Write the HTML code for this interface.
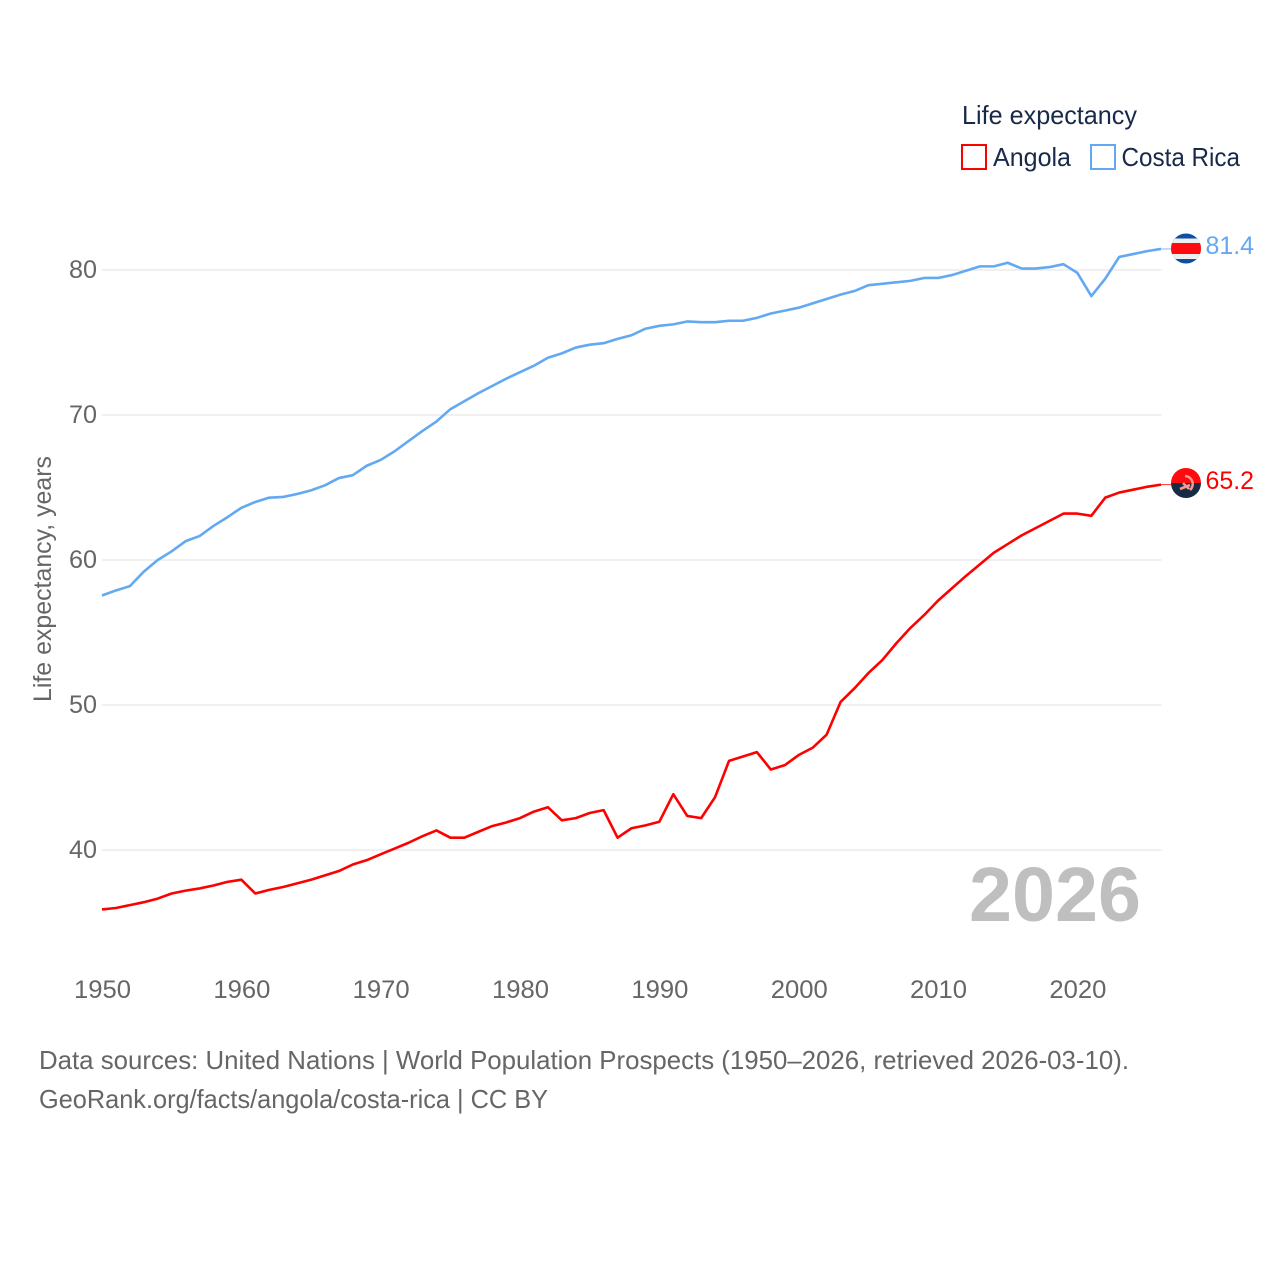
<!DOCTYPE html>
<html lang="en">
<head>
<meta charset="utf-8">
<title>Life expectancy: Angola and Costa Rica</title>
<style>
html,body{margin:0;padding:0;background:#fff;}
svg{display:block;font-family:"Liberation Sans",sans-serif;}
</style>
</head>
<body>
<svg id="chart" width="1280" height="1280" viewBox="0 0 1280 1280" xmlns="http://www.w3.org/2000/svg">
  <defs>
    <clipPath id="clip-cr"><circle cx="1186" cy="248.5" r="15"/></clipPath>
    <clipPath id="clip-ao"><circle cx="1186" cy="483" r="15"/></clipPath>
  </defs>
  <rect width="1280" height="1280" fill="#fff"/>
  <g id="grid"></g>
  <g id="y-ticks"></g>
  <g id="x-ticks"></g>
  <text transform="translate(51 579) rotate(-90)" text-anchor="middle" font-size="25" fill="#666" textLength="246" lengthAdjust="spacingAndGlyphs">Life expectancy, years</text>
  <text x="969" y="921" font-size="77" font-weight="700" fill="#bfbfbf" textLength="172" lengthAdjust="spacingAndGlyphs">2026</text>
  <g id="series"></g>

  <g>
    <text x="962" y="124" font-size="26" fill="#18294a" textLength="175" lengthAdjust="spacingAndGlyphs">Life expectancy</text>
    <g>
      <rect x="962" y="145" width="24" height="24" fill="none" stroke="#ff0000" stroke-width="2"/>
      <text x="993" y="166" font-size="26" fill="#18294a" textLength="78" lengthAdjust="spacingAndGlyphs">Angola</text>
    </g>
    <g>
      <rect x="1091" y="145" width="24" height="24" fill="none" stroke="#62a9f1" stroke-width="2"/>
      <text x="1121.5" y="166" font-size="26" fill="#18294a" textLength="118.5" lengthAdjust="spacingAndGlyphs">Costa Rica</text>
    </g>
  </g>

  <g clip-path="url(#clip-cr)">
    <rect x="1171" y="233" width="30" height="31" fill="#0f4ea3"/>
    <rect x="1171" y="238.5" width="30" height="20.5" fill="#eeeeee"/>
    <rect x="1171" y="243" width="30" height="11" fill="#ff0a0f"/>
  </g>
  <g clip-path="url(#clip-ao)">
    <rect x="1171" y="468" width="30" height="15" fill="#ff0a0f"/>
    <rect x="1171" y="483" width="30" height="15" fill="#182b45"/>
    <path d="M1185 476 a8 8 0 0 1 5 14 M1180 489 l10-4 M1183 483 l6 6" fill="none" stroke="#f59a8c" stroke-width="2.6"/>
  </g>
  <text x="1205.5" y="254" font-size="25" fill="#62a9f1" textLength="48.5" lengthAdjust="spacingAndGlyphs">81.4</text>
  <text x="1205.5" y="489" font-size="25" fill="#ff0000" textLength="48.5" lengthAdjust="spacingAndGlyphs">65.2</text>

  <text x="39" y="1069" font-size="26" fill="#666" textLength="1090" lengthAdjust="spacingAndGlyphs">Data sources: United Nations | World Population Prospects (1950–2026, retrieved 2026-03-10).</text>
  <text x="39" y="1108" font-size="26" fill="#666" textLength="509" lengthAdjust="spacingAndGlyphs">GeoRank.org/facts/angola/costa-rica | CC BY</text>
</svg>
<script>
const startYear = 1950;
const yTickValues = [40, 50, 60, 70, 80];
const xTickYears = [1950, 1960, 1970, 1980, 1990, 2000, 2010, 2020];
const costaRica = [
  57.55,57.9,58.2,59.2,60,60.6,61.3,61.65,62.35,62.95,
  63.6,64,64.3,64.35,64.55,64.8,65.15,65.65,65.85,66.5,
  66.9,67.5,68.2,68.9,69.55,70.4,70.95,71.5,72,72.5,
  72.95,73.4,73.95,74.25,74.65,74.85,74.95,75.25,75.5,75.95,
  76.15,76.25,76.45,76.4,76.4,76.5,76.5,76.7,77,77.2,
  77.4,77.7,78,78.3,78.55,78.95,79.05,79.15,79.25,79.45,
  79.45,79.65,79.95,80.25,80.25,80.5,80.1,80.1,80.2,80.4,
  79.8,78.2,79.4,80.9,81.1,81.3,81.45
];
const angola = [
  35.9,36,36.2,36.4,36.65,37,37.2,37.35,37.55,37.8,
  37.95,37,37.25,37.45,37.7,37.95,38.25,38.55,39,39.3,
  39.7,40.1,40.5,40.95,41.35,40.85,40.85,41.25,41.65,41.9,
  42.2,42.65,42.95,42.05,42.2,42.55,42.75,40.85,41.5,41.7,
  41.95,43.85,42.35,42.2,43.65,46.15,46.45,46.75,45.55,45.85,
  46.55,47.05,47.95,50.2,51.15,52.2,53.1,54.25,55.3,56.2,
  57.2,58.05,58.9,59.7,60.5,61.1,61.7,62.2,62.7,63.2,
  63.2,63.05,64.3,64.65,64.85,65.05,65.2
];

const NS = 'http://www.w3.org/2000/svg';
const xScale = function (year) { return 102 + (year - 1950) * (1161 - 102) / 76; };
const yScale = function (v) { return 850 - (v - 40) * 14.5; };

function make(parent, tag, attrs) {
  const el = document.createElementNS(NS, tag);
  Object.keys(attrs).forEach(function (k) { el.setAttribute(k, attrs[k]); });
  parent.appendChild(el);
  return el;
}

const gridGroup = document.getElementById('grid');
const yTickGroup = document.getElementById('y-ticks');
yTickValues.forEach(function (v) {
  const line = make(gridGroup, 'line', { x1: 102, x2: 1161.5, y1: yScale(v), y2: yScale(v), stroke: '#ececec', 'stroke-width': 1.5 });
  
  
  const label = make(yTickGroup, 'text', { x: 97, y: yScale(v) + 8, 'text-anchor': 'end', 'font-size': 25, fill: '#666', textLength: 28, lengthAdjust: 'spacingAndGlyphs' });
  
  
  label.textContent = v;
});

const xTickGroup = document.getElementById('x-ticks');
xTickYears.forEach(function (year) {
  const label = make(xTickGroup, 'text', { x: xScale(year) + 0.5, y: 998, 'text-anchor': 'middle', 'font-size': 25, fill: '#666', textLength: 57, lengthAdjust: 'spacingAndGlyphs' });
  
  
  label.textContent = year;
});

const seriesGroup = document.getElementById('series');
function drawSeries(values, color, name) {
  const pts = values.map(function (v, i) { return xScale(startYear + i).toFixed(2) + ',' + yScale(v).toFixed(2); });
  const line = make(seriesGroup, 'polyline', { points: pts.join(' '), fill: 'none', stroke: color, 'stroke-width': 2.6, 'stroke-linejoin': 'round' });
  
  
  const lastY = yScale(values[values.length - 1]);
  const connector = make(seriesGroup, 'line', { x1: xScale(startYear + values.length - 1), x2: 1171, y1: lastY, y2: lastY, stroke: color, 'stroke-width': 1, opacity: 0.8 });
  
  
}
drawSeries(costaRica, '#62a9f1', 'line-costa-rica');
drawSeries(angola, '#ff0000', 'line-angola');
</script>
</body>
</html>
